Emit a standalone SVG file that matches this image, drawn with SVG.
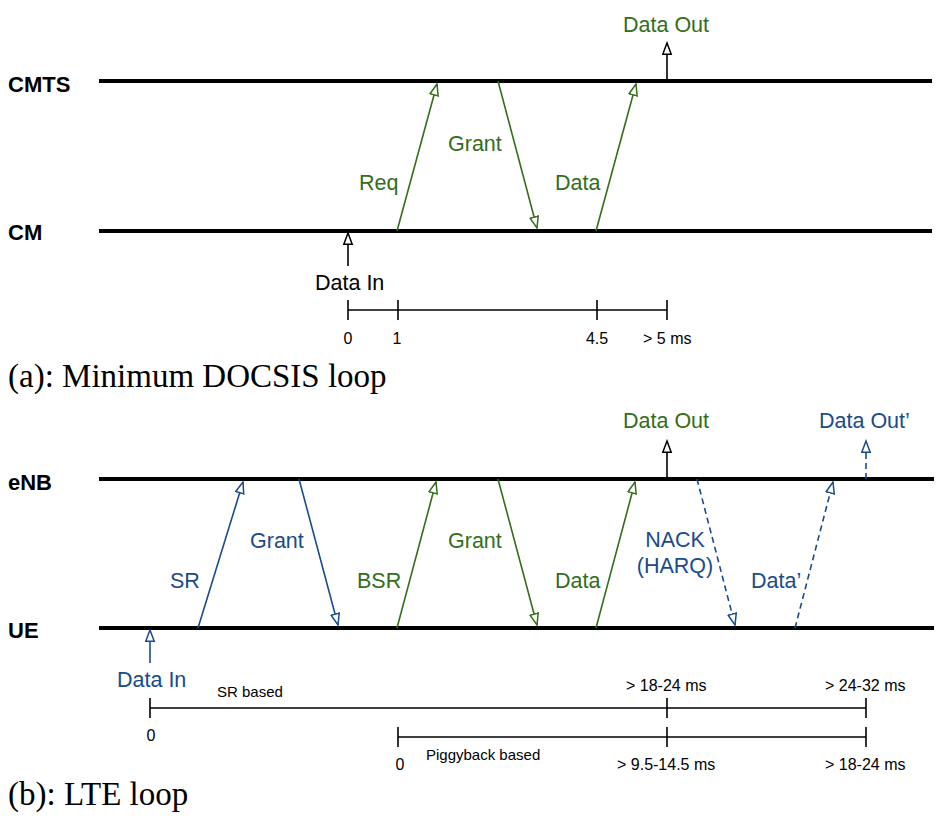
<svg xmlns="http://www.w3.org/2000/svg" width="939" height="821" viewBox="0 0 939 821">
<style>
.lane{stroke:#000;stroke-width:4;fill:none}
.ent{font-family:"Liberation Sans",Arial,sans-serif;font-weight:bold;font-size:22px;fill:#000}
.lbl{font-family:"Liberation Sans",Arial,sans-serif;font-size:21.5px}
.g{fill:#336e1a}
.b{fill:#1a4b8a}
.k{fill:#000}
.ax{font-family:"Liberation Sans",Arial,sans-serif;font-size:16px;fill:#000}
.sm{font-family:"Liberation Sans",Arial,sans-serif;font-size:15px;fill:#000}
.cap{font-family:"Liberation Serif","Times New Roman",serif;font-size:33px;fill:#000}
.ag{stroke:#336e1a;stroke-width:1.6;fill:none;marker-end:url(#mg)}
.ab{stroke:#1a4b8a;stroke-width:1.6;fill:none;marker-end:url(#mb)}
.abd{stroke:#1a4b8a;stroke-width:1.6;fill:none;stroke-dasharray:6 4;marker-end:url(#mb)}
.ak{stroke:#000;stroke-width:1.6;fill:none;marker-end:url(#mk)}
.tl{stroke:#000;stroke-width:1.6;fill:none}
</style>
<defs>
<marker id="mg" markerUnits="userSpaceOnUse" markerWidth="14" markerHeight="11" refX="12" refY="5" orient="auto"><path d="M0.8,0.8 L12,5 L0.8,9.2 z" fill="#fff" stroke="#336e1a" stroke-width="1.5"/></marker>
<marker id="mb" markerUnits="userSpaceOnUse" markerWidth="14" markerHeight="11" refX="12" refY="5" orient="auto"><path d="M0.8,0.8 L12,5 L0.8,9.2 z" fill="#fff" stroke="#1a4b8a" stroke-width="1.5"/></marker>
<marker id="mk" markerUnits="userSpaceOnUse" markerWidth="14" markerHeight="11" refX="12" refY="5" orient="auto"><path d="M0.8,0.8 L12,5 L0.8,9.2 z" fill="#fff" stroke="#000" stroke-width="1.5"/></marker>
</defs>
<rect width="939" height="821" fill="#fff"/>

<!-- Part (a) -->
<g id="cmts"><line class="lane" x1="99" y1="81" x2="932" y2="81"/><text class="ent" x="8" y="92">CMTS</text></g>
<g id="cm"><line class="lane" x1="99" y1="231" x2="932" y2="231"/><text class="ent" x="8" y="240">CM</text></g>

<g id="connectors-a">
<line class="ag" x1="397" y1="231" x2="437" y2="84"/>
<line class="ag" x1="498" y1="81" x2="537" y2="228"/>
<line class="ag" x1="596" y1="231" x2="636" y2="84"/>
<line class="ak" x1="667" y1="81" x2="667" y2="43"/>
<line class="ak" x1="348" y1="266" x2="348" y2="233"/>
</g>
<g id="labels-a">
<text class="lbl g" x="359" y="190">Req</text>
<text class="lbl g" x="448" y="151">Grant</text>
<text class="lbl g" x="555" y="190">Data</text>
<text class="lbl g" x="623" y="32">Data Out</text>
<text class="lbl k" x="315" y="290">Data In</text>
</g>
<g id="timeline-a">
<line class="tl" x1="348" y1="310" x2="667" y2="310"/>
<line class="tl" x1="348" y1="300" x2="348" y2="320"/>
<line class="tl" x1="398" y1="300" x2="398" y2="320"/>
<line class="tl" x1="597" y1="300" x2="597" y2="320"/>
<line class="tl" x1="667" y1="300" x2="667" y2="320"/>
<text class="ax" x="348" y="344" text-anchor="middle">0</text>
<text class="ax" x="397" y="344" text-anchor="middle">1</text>
<text class="ax" x="597" y="344" text-anchor="middle">4.5</text>
<text class="ax" x="643" y="344">&gt; 5 ms</text>
</g>
<text class="cap" x="8" y="387">(a): Minimum DOCSIS loop</text>

<!-- Part (b) -->
<g id="enb"><line class="lane" x1="99" y1="479" x2="934" y2="479"/><text class="ent" x="8" y="490">eNB</text></g>
<g id="ue"><line class="lane" x1="99" y1="628" x2="934" y2="628"/><text class="ent" x="8" y="638">UE</text></g>

<g id="connectors-b">
<line class="ab" x1="198" y1="628" x2="243" y2="482"/>
<line class="ab" x1="299" y1="479" x2="338" y2="625"/>
<line class="ag" x1="397" y1="628" x2="436" y2="482"/>
<line class="ag" x1="498" y1="479" x2="537" y2="625"/>
<line class="ag" x1="596" y1="628" x2="635" y2="482"/>
<line class="ak" x1="667" y1="479" x2="667" y2="441"/>
<line class="abd" x1="697" y1="479" x2="735" y2="625"/>
<line class="abd" x1="795" y1="628" x2="833" y2="482"/>
<line class="abd" x1="866" y1="479" x2="866" y2="441"/>
<line class="ab" x1="150" y1="663" x2="150" y2="630"/>
</g>
<g id="labels-b">
<text class="lbl b" x="170" y="588">SR</text>
<text class="lbl b" x="250" y="548">Grant</text>
<text class="lbl g" x="357" y="588">BSR</text>
<text class="lbl g" x="448" y="548">Grant</text>
<text class="lbl g" x="555" y="588">Data</text>
<text class="lbl b" x="675" y="547" text-anchor="middle">NACK</text>
<text class="lbl b" x="675" y="573" text-anchor="middle">(HARQ)</text>
<text class="lbl b" x="751" y="588">Data’</text>
<text class="lbl g" x="623" y="428">Data Out</text>
<text class="lbl b" x="819" y="428">Data Out’</text>
<text class="lbl b" x="117" y="687">Data In</text>
</g>
<g id="timeline-b">
<line class="tl" x1="150" y1="708" x2="866" y2="708"/>
<line class="tl" x1="150" y1="698" x2="150" y2="718"/>
<line class="tl" x1="667" y1="698" x2="667" y2="718"/>
<line class="tl" x1="866" y1="698" x2="866" y2="718"/>
<text class="sm" x="217" y="697">SR based</text>
<text class="ax" x="151" y="741" text-anchor="middle">0</text>
<text class="ax" x="626" y="691">&gt; 18-24 ms</text>
<text class="ax" x="825" y="691">&gt; 24-32 ms</text>
<line class="tl" x1="398" y1="737" x2="866" y2="737"/>
<line class="tl" x1="398" y1="727" x2="398" y2="747"/>
<line class="tl" x1="667" y1="727" x2="667" y2="747"/>
<line class="tl" x1="866" y1="727" x2="866" y2="747"/>
<text class="sm" x="426" y="760">Piggyback based</text>
<text class="ax" x="400" y="770" text-anchor="middle">0</text>
<text class="ax" x="617" y="770">&gt; 9.5-14.5 ms</text>
<text class="ax" x="825" y="770">&gt; 18-24 ms</text>
</g>
<text class="cap" x="8" y="805">(b): LTE loop</text>
</svg>
